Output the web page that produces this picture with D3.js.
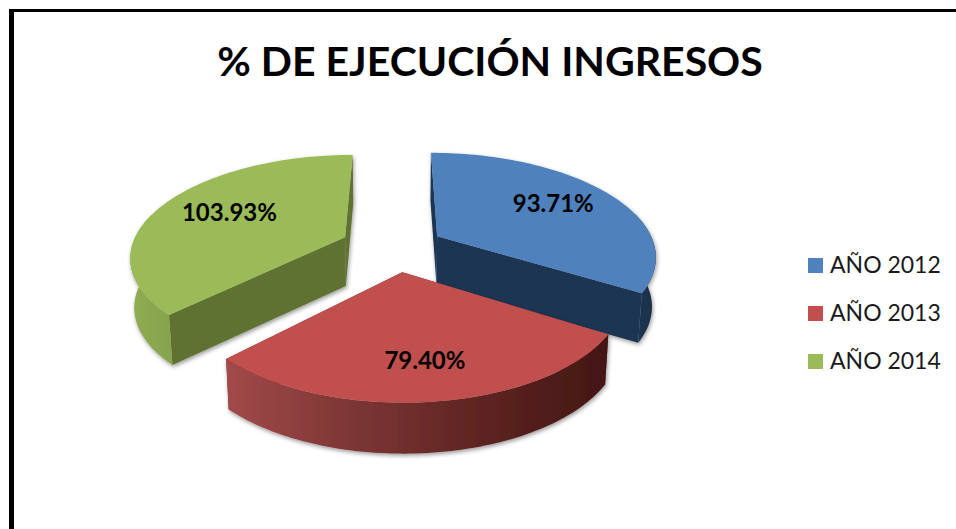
<!DOCTYPE html>
<html><head><meta charset="utf-8">
<script src="https://cdn.jsdelivr.net/npm/d3@7"></script>
<style>html,body{margin:0;padding:0;background:#fff}svg{display:block}text{font-family:Lato,"Open Sans",sans-serif}</style>
</head><body><svg id="c" width="956" height="529"></svg>
<script>
const categories = ["AÑO 2012","AÑO 2013","AÑO 2014"];
const values = [93.71,79.40,103.93];
const labels = ["93.71%","79.40%","103.93%"];
const colors = ["#4f81bd","#c0504d","#9bbb59"];
const title = "% DE EJECUCIÓN INGRESOS";

const svg = d3.select("#c");
const W=956,H=529;
const cx=396,cy=247,R=218,k=102,persp=0.18,depth=49;
const explode=[48,52,56];
const radiusScale=[1,0.96,0.98];
const labelRadius=[0.67,0.714,0.62];
const pie = d3.pie().sort(null).value(d=>d)(values);
function proj(X,Y,z){ // X right, Y toward viewer, z down
  const s=1/(1-persp*Y/R);
  const conv=1-0.015*z/depth;
  return [cx+X*s*conv, cy+(Y/R)*k*s+z*(1+(s-1)*0.15)];
}
const defs=svg.append("defs");
const grad=(id,stops)=>{
  const g=defs.append("linearGradient").attr("id",id).attr("x1",0).attr("x2",1).attr("y1",0).attr("y2",0);
  stops.forEach(s=>g.append("stop").attr("offset",s[0]).attr("stop-color",s[1]));
};
grad("redWall",[["0%","#a2494a"],["35%","#7a3533"],["70%","#5c2220"],["100%","#431715"]]);
grad("greenWall",[["0%","#90ad52"],["100%","#86a24e"]]);
grad("blueWall",[["0%","#1f3654"],["100%","#1b3049"]]);
const f=defs.append("filter").attr("id","sh").attr("x","-10%").attr("y","-10%").attr("width","120%").attr("height","120%");
f.append("feDropShadow").attr("dx",1).attr("dy",2).attr("stdDeviation",2).attr("flood-color","#000").attr("flood-opacity",0.4);

const wallFill=["url(#blueWall)","url(#redWall)","url(#greenWall)"];
const cutFill=["#1e3552","#6d2c2a","#5f7232"];
const line=d3.line();
const order=[2,0,1];
const geo=pie.map((p,i)=>{
  const mid=(p.startAngle+p.endAngle)/2;
  const ox=Math.sin(mid)*explode[i], oy=-Math.cos(mid)*explode[i];
  const pt=(a,r,z)=>proj(ox+Math.sin(a)*r,oy-Math.cos(a)*r,z);
  const n=80;
  const angs=d3.range(n+1).map(j=>p.startAngle+(p.endAngle-p.startAngle)*j/n);
  return {p,mid,pt,angs};
});
const plot=svg.append("g");
order.forEach(i=>{
  const {pt,angs}=geo[i];
  const r=R*radiusScale[i];
  const a0=angs[0],a1=angs[angs.length-1];
  const g=plot.append("g").attr("filter","url(#sh)");
  g.append("path").attr("fill",cutFill[i]).attr("d",line([pt(a0,0,0),pt(a0,r,0),pt(a0,r,depth),pt(a0,0,depth)])+"Z");
  g.append("path").attr("fill",cutFill[i]).attr("d",line([pt(a1,0,0),pt(a1,r,0),pt(a1,r,depth),pt(a1,0,depth)])+"Z");
  const front=i===1?angs:angs.filter(a=>Math.cos(a)<0.25);
  const pts=front.map(a=>pt(a,r,0)).concat(front.slice().reverse().map(a=>pt(a,r,depth)));
  g.append("path").attr("fill",wallFill[i]).attr("d",line(pts)+"Z");
  const top=[pt(0,0,0)].concat(angs.map(a=>pt(a,r,0)));
  g.append("path").attr("fill",colors[i]).attr("d",line(top)+"Z");
});
labels.forEach((t,i)=>{
  const {pt,mid}=geo[i];
  const q=pt(mid,R*labelRadius[i],0);
  svg.append("text").attr("x",q[0]).attr("y",q[1]).attr("text-anchor","middle").attr("dominant-baseline","middle")
    .attr("font-size",24).attr("font-weight",700).attr("fill","#000").text(t);
});
svg.append("text").attr("x",490).attr("y",76).attr("text-anchor","middle")
  .attr("font-size",41).attr("font-weight",700).attr("fill","#000").text(title);
const ly=d3.scalePoint().domain(categories).range([265,361]);
categories.forEach((c,i)=>{
  svg.append("rect").attr("x",808).attr("y",ly(c)-7).attr("width",15).attr("height",15).attr("fill",colors[i]);
  svg.append("text").attr("x",830).attr("y",ly(c)+8).attr("font-size",23).attr("fill","#1a1a1a").text(c);
});
svg.append("rect").attr("x",9).attr("y",9).attr("width",5).attr("height",H-9).attr("fill","#000");
svg.append("rect").attr("x",9).attr("y",9).attr("width",W-9).attr("height",3).attr("fill","#000");
</script></body></html>
